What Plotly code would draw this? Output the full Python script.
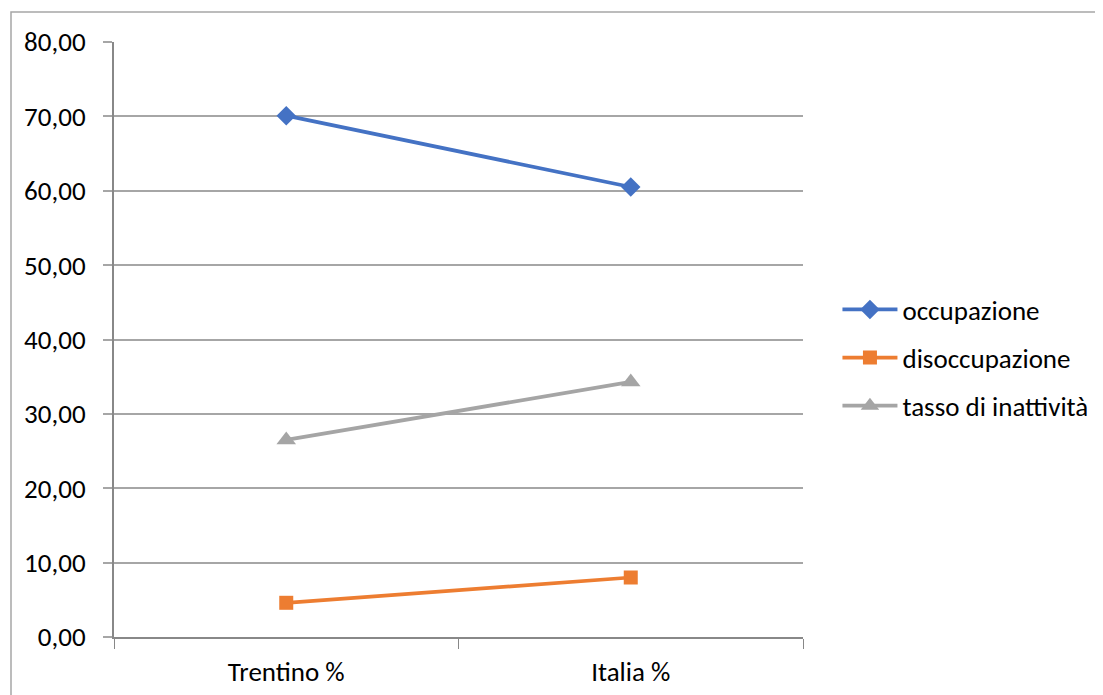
import plotly.graph_objects as go

categories = ["Trentino %", "Italia %"]
occupazione = [70.1, 60.5]
disoccupazione = [4.6, 8.0]
inattivita = [26.5, 34.3]

series = [
    ("occupazione", occupazione, "#4472C4", "diamond", 15),
    ("disoccupazione", disoccupazione, "#ED7D31", "square", 14),
    ("tasso di inattività", inattivita, "#A5A5A5", "triangle-up", 17),
]

OFF = 8  # page body margin
W, H = 1140, 710
L, R, T, B = 114 - OFF, 803 - OFF, 42 - OFF, 637 - OFF

fig = go.Figure()
for i, (name, vals, col, sym, ms) in enumerate(series):
    fig.add_trace(go.Scatter(
        x=categories, y=vals, name=name, mode="lines+markers",
        line=dict(color=col, width=3.75),
        marker=dict(symbol=sym, size=ms, color=col),
        legendgroup=f"g{i}",
    ))

font = "Calibri, Carlito, Lato, sans-serif"
FS = 27
fig.update_layout(
    width=W, height=H,
    margin=dict(l=L, r=W - R, t=T, b=H - B, pad=0),
    paper_bgcolor="white", plot_bgcolor="white",
    font=dict(family=font, size=FS, color="#000000"),
    showlegend=True,
    legend=dict(x=1.05, y=0.469, xanchor="left", yanchor="middle",
                font=dict(family=font, size=FS, color="#000000"),
                itemwidth=55, tracegroupgap=10, traceorder="grouped",
                bgcolor="rgba(0,0,0,0)"),
    xaxis=dict(type="category", range=[-0.5, 1.5], showgrid=False,
               automargin=False,
               showline=True, linecolor="#888888", linewidth=2,
               ticks="outside", tickson="boundaries", ticklen=10,
               tickcolor="#888888", tickwidth=1,
               ticklabelstandoff=10,
               tickfont=dict(family=font, size=FS, color="#000000"),
               zeroline=False),
    yaxis=dict(range=[0, 80], dtick=10, tickformat=".2f",
               automargin=False,
               showgrid=True, gridcolor="#A6A6A6", gridwidth=1.5,
               showline=True, linecolor="#888888", linewidth=2,
               ticks="outside", ticklen=9, tickcolor="#A6A6A6", tickwidth=1.5,
               ticklabelstandoff=12,
               tickfont=dict(family=font, size=FS, color="#000000"),
               zeroline=False),
    separators=",.",
    shapes=[dict(type="rect", xref="paper", yref="paper",
                 x0=(11 - 114) / (803 - 114), x1=(1110 - 114) / (803 - 114),
                 y0=(637 - 710) / (637 - 42), y1=1 + (42 - 12) / (637 - 42),
                 line=dict(color="#A6A6A6", width=1.5), fillcolor="rgba(0,0,0,0)",
                 layer="below")],
)

fig.write_html("out.html")
